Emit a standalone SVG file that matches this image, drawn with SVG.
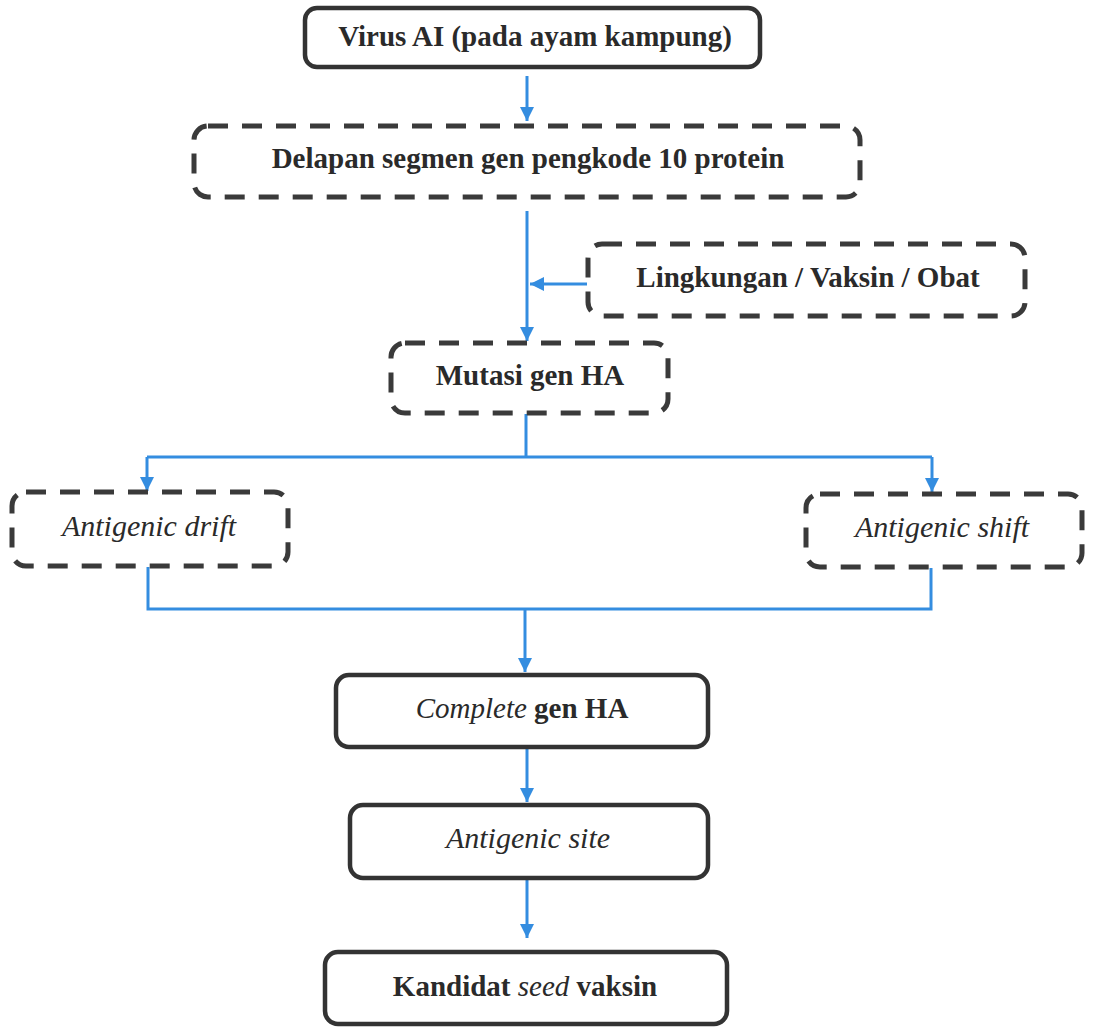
<svg xmlns="http://www.w3.org/2000/svg" width="1096" height="1027" viewBox="0 0 1096 1027">
<defs>
<style>
.solid{fill:#fff;stroke:#333;stroke-width:4.5}
.dash{fill:#fff;stroke:#3a3a3a;stroke-width:5;stroke-dasharray:20 14}
.t{font-family:"Liberation Serif","Times New Roman",serif;font-size:29px;fill:#2a2a2a;text-anchor:middle}
.b{font-weight:bold}
.i{font-style:italic;font-size:30px}
.ii{font-style:italic;font-weight:normal}
.c{fill:none;stroke:#348de0;stroke-width:3}
</style>
<marker id="ah" viewBox="0 0 10 10" refX="10" refY="5" markerWidth="14" markerHeight="14" markerUnits="userSpaceOnUse" orient="auto">
<path d="M0,0 L10,5 L0,10 z" fill="#348de0"/>
</marker>
</defs>
<rect width="1096" height="1027" fill="#fff"/>

<g id="connectors">
<path class="c" d="M527,76 V121" marker-end="url(#ah)"/>
<path class="c" d="M527,211 V341" marker-end="url(#ah)"/>
<path class="c" d="M587,284 H530" marker-end="url(#ah)"/>
<path class="c" d="M526,414 V457"/>
<path class="c" d="M147,457 H932"/>
<path class="c" d="M147,457 V491" marker-end="url(#ah)"/>
<path class="c" d="M932,457 V492" marker-end="url(#ah)"/>
<path class="c" d="M148,567 V609 H931 V568"/>
<path class="c" d="M525,609 V672" marker-end="url(#ah)"/>
<path class="c" d="M527,748 V802" marker-end="url(#ah)"/>
<path class="c" d="M527,879 V938" marker-end="url(#ah)"/>
</g>

<g id="n1">
<rect class="solid" x="305" y="8" width="455" height="59" rx="12"/>
<text class="t b" x="535" y="46">Virus AI (pada ayam kampung)</text>
</g>

<g id="n2">
<rect class="dash" x="194" y="126" width="666" height="71" rx="14"/>
<text class="t b" x="528" y="168">Delapan segmen gen pengkode 10 protein</text>
</g>

<g id="n3">
<rect class="dash" x="588" y="244" width="437" height="72" rx="14"/>
<text class="t b" x="808" y="287">Lingkungan / Vaksin / Obat</text>
</g>

<g id="n4">
<rect class="dash" x="391" y="343" width="277" height="70" rx="14"/>
<text class="t b" x="530" y="385">Mutasi gen HA</text>
</g>

<g id="n5">
<rect class="dash" x="12" y="492" width="276" height="74" rx="14"/>
<text class="t i" x="149" y="536">Antigenic drift</text>
</g>

<g id="n6">
<rect class="dash" x="806" y="494" width="276" height="73" rx="14"/>
<text class="t i" x="942" y="537">Antigenic shift</text>
</g>

<g id="n7">
<rect class="solid" x="336" y="675" width="372" height="72" rx="13"/>
<text class="t b" x="522" y="718"><tspan class="ii">Complete</tspan> gen HA</text>
</g>

<g id="n8">
<rect class="solid" x="350" y="805" width="358" height="73" rx="13"/>
<text class="t i" x="528" y="848">Antigenic site</text>
</g>

<g id="n9">
<rect class="solid" x="325" y="952" width="402" height="72" rx="13"/>
<text class="t b" x="525" y="996">Kandidat <tspan class="ii">seed</tspan> vaksin</text>
</g>
</svg>
